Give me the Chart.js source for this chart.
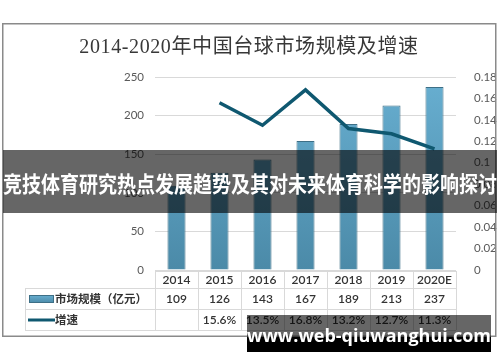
<!DOCTYPE html>
<html>
<head>
<meta charset="utf-8">
<script src="https://cdn.jsdelivr.net/npm/chart.js@4/dist/chart.umd.min.js"></script>
<style>
  html, body { margin: 0; padding: 0; background: #fff; }
  #wrap { width: 500px; height: 362px; position: relative; }
</style>
</head>
<body>
<div id="wrap"><canvas id="myChart" width="500" height="362"></canvas></div>
<script>
// data
const years = ["2014", "2015", "2016", "2017", "2018", "2019", "2020E"];
const marketSize = [109, 126, 143, 167, 189, 213, 237];
const growth = [null, 0.156, 0.135, 0.168, 0.132, 0.127, 0.113];
const growthLabels = ["", "15.6%", "13.5%", "16.8%", "13.2%", "12.7%", "11.3%"];
const leftTicks = ["0", "50", "100", "150", "200", "250"];
const rightTicks = ["0", "0.02", "0.04", "0.06", "0.08", "0.1", "0.12", "0.14", "0.16", "0.18"];

const title = "2014-2020年中国台球市场规模及增速";
const sizeLabel = "市场规模（亿元）";
const growthLabel = "增速";
const banner = "竞技体育研究热点发展趋势及其对未来体育科学的影响探讨";
const watermark = "www.web-qiuwanghui.com";

const textGray = '#404040';
const tickGray = '#595959';
const lineGray = '#d9d9d9';
const lineColor = '#0f5870';

function barGradient(ctx, top, bottom) {
  let g = ctx.createLinearGradient(0, top, 0, bottom);
  g.addColorStop(0, '#68afd1');
  g.addColorStop(1, '#4b8aa8');
  return g;
}

let overlay = {
  id: 'overlay',
  afterDraw(chart) {
    const ctx = chart.ctx;
    const x = chart.scales.x;
    const area = chart.chartArea;
    const colW = (area.right - area.left) / years.length;
    const rows = [area.bottom + 1, 288, 309, 330];

    ctx.save();
    // data table
    ctx.strokeStyle = lineGray;
    ctx.lineWidth = 1;
    ctx.beginPath();
    ctx.moveTo(area.left, rows[0] + 0.5); ctx.lineTo(area.right, rows[0] + 0.5);
    for (let r = 1; r < rows.length; r++) {
      ctx.moveTo(25, rows[r] + 0.5); ctx.lineTo(area.right, rows[r] + 0.5);
    }
    for (let i = 0; i <= years.length; i++) {
      let cx = Math.round(area.left + i * colW) + 0.5;
      ctx.moveTo(cx, rows[0]); ctx.lineTo(cx, rows[3]);
    }
    ctx.moveTo(25.5, rows[1]); ctx.lineTo(25.5, rows[3]);
    ctx.stroke();

    ctx.fillStyle = '#333333';
    ctx.textAlign = 'center';
    ctx.textBaseline = 'middle';
    ctx.font = '600 12px Lato, "Noto Sans CJK SC"';
    years.forEach((y, i) => {
      let cx = x.getPixelForValue(i);
      ctx.fillText(y, cx, (rows[0] + rows[1]) / 2 + 1);
      ctx.fillText(String(marketSize[i]), cx, (rows[1] + rows[2]) / 2 + 1);
      ctx.fillText(growthLabels[i], cx, (rows[2] + rows[3]) / 2 + 1);
    });

    // legend keys inside the table
    ctx.fillStyle = barGradient(ctx, 295, 303);
    ctx.fillRect(29, 295, 25, 8);
    ctx.strokeStyle = '#3d6f86';
    ctx.lineWidth = 1;
    ctx.strokeRect(29.5, 295.5, 24, 7);
    ctx.strokeStyle = lineColor;
    ctx.lineWidth = 3;
    ctx.beginPath();
    ctx.moveTo(28, 320); ctx.lineTo(55, 320);
    ctx.stroke();

    ctx.fillStyle = '#333333';
    ctx.textAlign = 'left';
    ctx.font = 'bold 11.5px "Noto Sans CJK SC"';
    ctx.fillText(sizeLabel, 55, 299);
    ctx.fillText(growthLabel, 55, 320);

    // frame and title
    ctx.strokeStyle = '#8a8a8a';
    ctx.lineWidth = 1.5;
    ctx.strokeRect(2.75, 23.75, 493, 312.5);
    ctx.fillStyle = '#383838';
    ctx.textAlign = 'center';
    ctx.font = '20px "Liberation Serif", "Noto Sans CJK SC"';
    ctx.letterSpacing = '0.6px';
    ctx.fillText(title, 249, 48);
    ctx.letterSpacing = '0px';

    // banner over the middle
    ctx.fillStyle = 'rgba(0,0,0,0.6)';
    ctx.fillRect(3, 150, 494, 63);
    ctx.fillStyle = '#ffffff';
    ctx.font = 'bold 19px "Noto Sans CJK SC"';
    ctx.save();
    ctx.translate(250, 184);
    ctx.scale(1, 1.15);
    ctx.fillText(banner, 0, 0);
    ctx.restore();

    // watermark at the bottom
    ctx.fillStyle = 'rgba(0,0,0,0.6)';
    ctx.fillRect(247, 315, 244, 22);
    ctx.fillStyle = '#000000';
    ctx.fillRect(247, 337, 244, 15);
    ctx.fillStyle = '#ffffff';
    ctx.font = 'bold 18px "Open Sans"';
    ctx.textBaseline = 'alphabetic';
    ctx.fillText(watermark, 369, 342);
    ctx.restore();
  }
};

let sizeData = {
  type: 'bar',
  label: sizeLabel,
  data: marketSize,
  yAxisID: 'y',
  order: 1,
  backgroundColor: function(context) {
    const area = context.chart.chartArea;
    if (!area) return '#5b9fc0';
    return barGradient(context.chart.ctx, area.top, area.bottom);
  },
  borderColor: '#3d6f86',
  borderWidth: 1,
  categoryPercentage: 1,
  barPercentage: 0.42,
};

let growthData = {
  type: 'line',
  label: growthLabel,
  data: growth,
  yAxisID: 'y1',
  order: 0,
  borderColor: lineColor,
  borderWidth: 3.5,
  pointRadius: 0,
  tension: 0,
  spanGaps: false,
};

let myChart = new Chart(document.getElementById('myChart'), {
  data: {
    labels: years,
    datasets: [sizeData, growthData]
  },
  options: {
    responsive: false,
    animation: false,
    layout: { padding: { top: 77, bottom: 92, left: 0, right: 0 } },
    plugins: {
      legend: { display: false },
      tooltip: { enabled: false },
      title: { display: false },
    },
    scales: {
      x: { display: false },
      y: {
        position: 'left',
        min: 0, max: 250,
        ticks: {
          stepSize: 50,
          padding: 11,
          color: tickGray,
          font: { family: 'Lato', size: 11.5 },
          callback: (v, i) => leftTicks[i],
        },
        grid: { color: lineGray, drawTicks: false },
        border: { display: false },
        afterFit(scale) { scale.width = 155; },
      },
      y1: {
        position: 'right',
        min: 0, max: 0.18,
        ticks: {
          stepSize: 0.02,
          padding: 10,
          color: tickGray,
          font: { family: 'Lato', size: 11.5 },
          callback: (v, i) => rightTicks[i],
        },
        grid: { display: false },
        border: { display: false },
        afterFit(scale) { scale.width = 44; },
      },
    },
  },
  plugins: [overlay],
});
</script>
</body>
</html>
